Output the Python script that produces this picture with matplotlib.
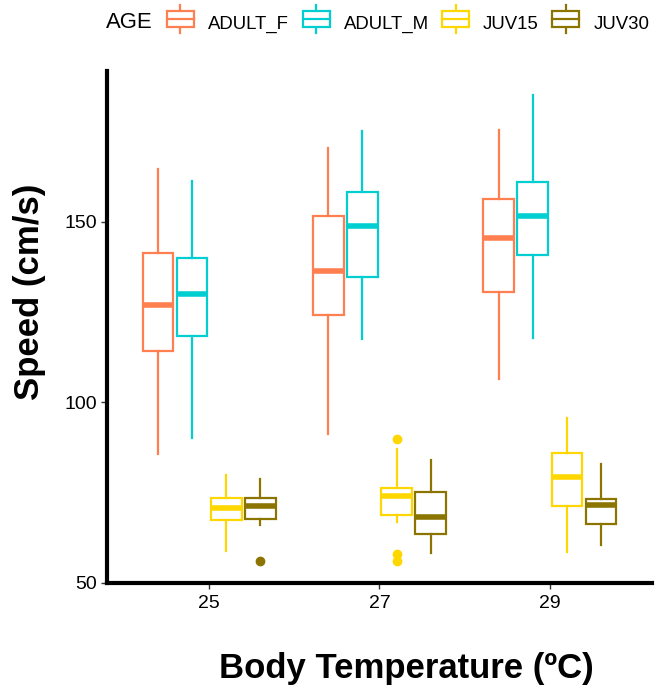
import matplotlib
matplotlib.use('Agg')
import matplotlib.pyplot as plt
from matplotlib.legend_handler import HandlerBase
from matplotlib.patches import Rectangle
from matplotlib.lines import Line2D

plt.rcParams['font.family'] = ['Liberation Sans', 'DejaVu Sans']

temps = ['25', '27', '29']
ages = ['ADULT_F', 'ADULT_M', 'JUV15', 'JUV30']
colors = ['#FF7F50', '#00CED1', '#FFD700', '#8B7500']

# per age: one entry per temperature -> (whislo, q1, med, q3, whishi)
stats = {
    'ADULT_F': [(85.7, 114.3, 126.9, 141.4, 164.6),
                (91.3, 124.2, 136.4, 151.7, 170.5),
                (106.4, 130.5, 145.5, 156.3, 175.5)],
    'ADULT_M': [(90.1, 118.5, 130.0, 139.9, 161.3),
                (117.5, 134.8, 148.8, 158.2, 175.2),
                (117.8, 140.7, 151.7, 161.0, 185.2)],
    'JUV15':   [(58.9, 67.5, 70.7, 73.6, 79.9),
                (67.0, 68.9, 74.1, 76.3, 87.0),
                (58.7, 71.2, 79.4, 86.0, 95.7)],
    'JUV30':   [(66.0, 67.7, 71.3, 73.6, 78.7),
                (58.2, 63.6, 68.2, 75.2, 84.1),
                (60.6, 66.3, 71.5, 73.3, 82.9)],
}
outliers = {
    'ADULT_F': [[], [], []],
    'ADULT_M': [[], [], []],
    'JUV15':   [[], [89.8, 58.0, 56.2], []],
    'JUV30':   [[56.2], [], []],
}

fig = plt.figure(figsize=(6.56, 6.87), dpi=100)
ax = fig.add_axes([0.163, 0.1514, 0.831, 0.7453])

offsets = [-0.3, -0.1, 0.1, 0.3]
for a, age in enumerate(ages):
    col = colors[a]
    bxp_stats = []
    for i, s in enumerate(stats[age]):
        lo, q1, med, q3, hi = s
        bxp_stats.append(dict(whislo=lo, q1=q1, med=med, q3=q3, whishi=hi,
                              fliers=outliers[age][i]))
    pos = [i + 1 + offsets[a] for i in range(len(temps))]
    ax.bxp(bxp_stats, positions=pos, widths=0.18, showcaps=False,
           patch_artist=True,
           boxprops=dict(facecolor='white', edgecolor=col, linewidth=1.6),
           whiskerprops=dict(color=col, linewidth=1.6),
           medianprops=dict(color=col, linewidth=4, solid_capstyle='butt'),
           flierprops=dict(marker='o', markerfacecolor=col, markeredgecolor=col,
                           markersize=6))

ax.set_xlim(0.4, 3.6)
ax.set_ylim(50, 191.8)
ax.set_xticks([1, 2, 3])
ax.set_xticklabels(temps)
ax.set_yticks([50, 100, 150])
ax.tick_params(labelsize=14, length=4, width=1, color='#333333',
               labelcolor='black', pad=3)
ax.tick_params(axis='x', pad=5)
for sp in ['top', 'right']:
    ax.spines[sp].set_visible(False)
for sp in ['left', 'bottom']:
    ax.spines[sp].set_linewidth(3)
    ax.spines[sp].set_capstyle('projecting')

fig.text(0.619, 0.027, 'Body Temperature (ºC)', fontsize=25, fontweight='bold',
         ha='center', va='center')
fig.text(0.045, 1 - 292 / 687, 'Speed (cm/s)', fontsize=25, fontweight='bold',
         ha='center', va='center', rotation=90)


class BoxHandler(HandlerBase):
    def create_artists(self, legend, orig, xd, yd, w, h, fontsize, trans):
        col = orig.get_color()
        r = Rectangle((xd, yd), w, h, facecolor='white', edgecolor=col,
                      linewidth=1.6, transform=trans)
        m = Line2D([xd, xd + w], [yd + h / 2] * 2, color=col, linewidth=1.6,
                   transform=trans)
        cx = xd + w / 2
        w1 = Line2D([cx, cx], [yd + h, yd + h + 4.3], color=col, linewidth=1.6,
                    transform=trans)
        w2 = Line2D([cx, cx], [yd, yd - 4.3], color=col, linewidth=1.6,
                    transform=trans)
        return [w1, w2, r, m]


handles = [Line2D([], [], color=c) for c in colors]
fig.legend(handles, ages, handler_map={Line2D: BoxHandler()},
           loc='center left', bbox_to_anchor=(167 / 656, 1 - 24 / 687),
           ncol=4, frameon=False, fontsize=13.4, borderpad=0, borderaxespad=0,
           handlelength=1.45, handleheight=0.95, handletextpad=0.75,
           columnspacing=0.73)
fig.text(106 / 656, 1 - 23 / 687, 'AGE', fontsize=15.9, ha='left', va='center')

fig.savefig('out.png', dpi=100)
